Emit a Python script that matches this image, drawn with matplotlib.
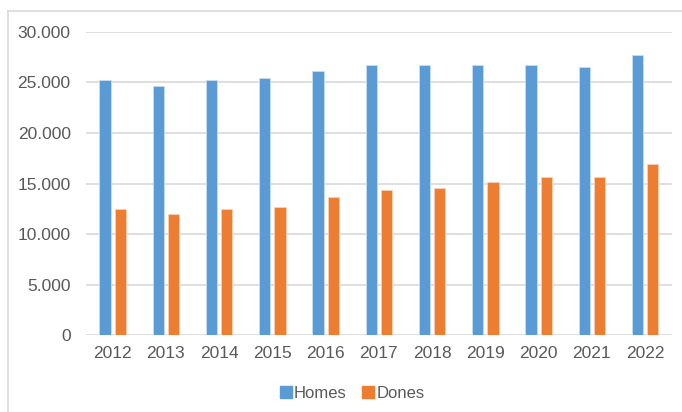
import matplotlib.pyplot as plt
import numpy as np
from matplotlib.lines import Line2D
from matplotlib.ticker import FuncFormatter

years = ['2012', '2013', '2014', '2015', '2016', '2017', '2018', '2019', '2020', '2021', '2022']
homes = [25250, 24680, 25250, 25430, 26150, 26750, 26750, 26750, 26750, 26550, 27700]
dones = [12500, 11980, 12500, 12700, 13650, 14380, 14580, 15130, 15650, 15650, 16950]

blue = '#5b9bd5'
orange = '#ed7d31'
grey = '#595959'

plt.rcParams['font.family'] = ['Liberation Sans', 'DejaVu Sans']

W, H = 682, 412
fig = plt.figure(figsize=(W / 100, H / 100), dpi=100)
ax = fig.add_axes([86 / W, 1 - 335.3 / H, (671.7 - 86) / W, (335.3 - 31.7) / H])

x = np.arange(len(years))
bw = 0.21
gap = 0.075
ax.bar(x - (bw + gap) / 2, homes, bw, color=blue, edgecolor='#c9ddf0', linewidth=0.6, label='Homes', zorder=3)
ax.bar(x + (bw + gap) / 2, dones, bw, color=orange, edgecolor='#f8d0b5', linewidth=0.6, label='Dones', zorder=3)

ax.set_xlim(-0.5, len(years) - 0.5)
ax.set_ylim(0, 30000)
ax.set_yticks(range(0, 30001, 5000))
ax.yaxis.set_major_formatter(FuncFormatter(lambda v, p: f'{int(v):,}'.replace(',', '.')))
ax.set_xticks(x)
ax.set_xticklabels(years)
ax.tick_params(axis='both', length=0, labelsize=12.5, colors=grey)
ax.tick_params(axis='y', pad=11)
ax.tick_params(axis='x', pad=8)
ax.grid(axis='y', color='#d9d9d9', linewidth=1.2, zorder=0)
for s in ax.spines.values():
    s.set_visible(False)

handles = [Line2D([], [], marker='s', linestyle='none', markersize=8.5, color=blue),
           Line2D([], [], marker='s', linestyle='none', markersize=8.5, color=orange)]
fig.legend(handles, ['Homes', 'Dones'], loc='center', bbox_to_anchor=(351 / W, 1 - 393.5 / H),
           ncol=2, frameon=False, fontsize=12, labelcolor=grey, handletextpad=0.0,
           columnspacing=0.8, handlelength=1.0)

# frame of the chart area (top and left edges only)
fig.add_artist(Line2D([7.5 / W, 1], [1 - 10.7 / H, 1 - 10.7 / H], color='#d9d9d9', linewidth=1.2))
fig.add_artist(Line2D([7.5 / W, 7.5 / W], [1 - 10.7 / H, 0], color='#d9d9d9', linewidth=1.2))

fig.savefig('out.png', dpi=100)
